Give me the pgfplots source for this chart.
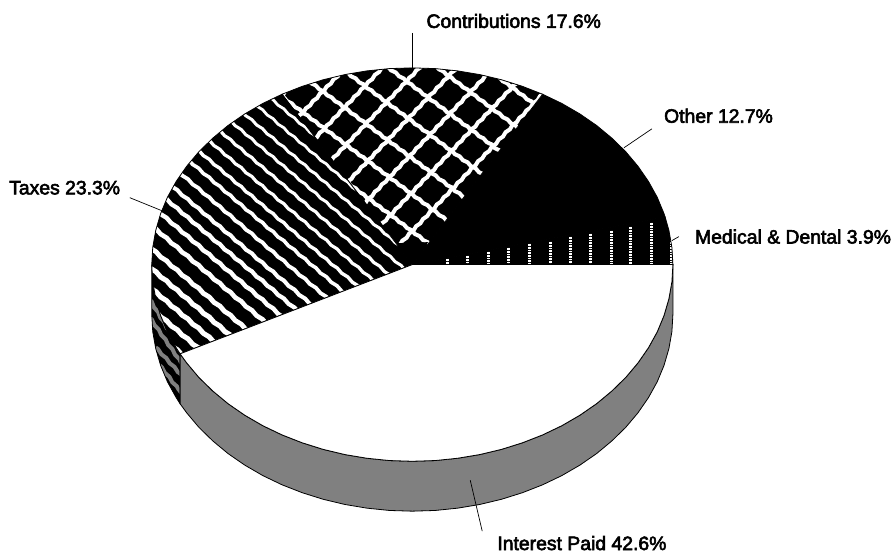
\documentclass[border=0pt]{standalone}
\usepackage{fontspec}
\setmainfont{Liberation Sans}
\newfontfamily\labfont[FakeBold=3]{Liberation Sans}
\usepackage{pgfplots}
\pgfplotsset{compat=1.18}
\usetikzlibrary{decorations.pathmorphing}
\definecolor{sidegray}{RGB}{128,128,128}
\tikzset{
  jag/.style={path picture={},decorate,decoration={zigzag,segment length=#1,amplitude=0.55}},
  lab/.style={anchor=west,inner sep=0pt,font=\fontsize{19.4}{21}\labfont},
  edge/.style={draw=black,line width=0.8pt},
  lead/.style={draw=black,line width=0.7pt}
}
\begin{document}
\begin{tikzpicture}
\begin{axis}[
  x=1pt,y=1pt,
  xmin=0,xmax=891,ymin=0,ymax=554,
  y dir=reverse,
  hide axis,
  clip=false,
  scale only axis
]
\path (axis cs:0,0) -- (axis cs:891,554);
% Side: Taxes
\addplot[edge,fill=black,path picture={
    \foreach \a/\b/\c/\d in {150/300/182/352,150/318/182/364,156/348/182/376,160/366/182/394}
      \draw[sidegray,line width=4pt,jag=12] (axis cs:\a,\b) -- (axis cs:\c,\d);
  }] coordinates {
  (152.0,265.0)(153.0,282.2)(156.0,299.2)(160.9,316.0)(167.7,332.4)(176.5,348.3)(180.4,354.4)
  (180.4,404.4)(176.5,398.3)(167.7,382.4)(160.9,366.0)(156.0,349.2)(153.0,332.2)(152.0,315.0)
} --cycle;
% Side: Interest Paid
\addplot[edge,fill=sidegray] coordinates {
  (180.4,354.4)(187.0,363.5)(199.2,378.0)(213.1,391.6)(228.4,404.3)(245.2,415.9)(263.3,426.4)
  (282.5,435.6)(302.7,443.5)(323.7,450.1)(345.5,455.3)(367.7,459.0)(390.2,461.3)(413.0,462.0)
  (435.8,461.3)(458.3,459.0)(480.5,455.3)(502.3,450.1)(523.3,443.5)(543.5,435.6)(562.7,426.4)
  (580.8,415.9)(597.6,404.3)(612.9,391.6)(626.8,378.0)(639.0,363.5)(649.5,348.3)(658.3,332.4)
  (665.1,316.0)(670.0,299.2)(673.0,282.2)(674.0,265.0)
  (674.0,315.0)(673.0,332.2)(670.0,349.2)(665.1,366.0)(658.3,382.4)(649.5,398.3)(639.0,413.5)
  (626.8,428.0)(612.9,441.6)(597.6,454.3)(580.8,465.9)(562.7,476.4)(543.5,485.6)(523.3,493.5)
  (502.3,500.1)(480.5,505.3)(458.3,509.0)(435.8,511.3)(413.0,512.0)(390.2,511.3)(367.7,509.0)
  (345.5,505.3)(323.7,500.1)(302.7,493.5)(282.5,485.6)(263.3,476.4)(245.2,465.9)(228.4,454.3)
  (213.1,441.6)(199.2,428.0)(187.0,413.5)(180.4,404.4)
} --cycle;
% Top: Medical & Dental
\addplot[edge,fill=black,path picture={
    \foreach \x/\t in {448/259,468/256,489/252,509/248,530/244,551/242,571/237,591/234,612/231,632/227,653/223,673/215}
      \draw[white,line width=3pt,dash pattern=on 0.9pt off 0.7pt,path picture={}] (axis cs:\x,\t) -- (axis cs:\x,265);
  }] coordinates {
  (413,265)(674.0,265.0)(673.0,247.8)(670.0,230.8)(666.2,217.3)
} --cycle;
% Top: Other
\addplot[edge,fill=black] coordinates {
  (413,265)(666.2,217.3)(665.1,214.0)(658.3,197.6)(649.5,181.7)(639.0,166.5)(626.8,152.0)
  (612.9,138.4)(597.6,125.7)(580.8,114.1)(562.7,103.6)(543.5,94.4)
} --cycle;
% Top: Contributions
\addplot[edge,fill=black,path picture={
    \foreach \c in {-42,-78,-115,-151,-188,-224,-261,-297}
      \draw[white,line width=4pt,jag=10] (axis cs:250,{\c+187.5}) -- (axis cs:600,{\c+450});
    \foreach \c in {665,626,587,548,509,470,431,392}
      \draw[white,line width=4pt,jag=10] (axis cs:250,{\c-262.5}) -- (axis cs:600,{\c-630});
    \fill[black,path picture={}] (axis cs:413,265) -- (axis cs:428,243) -- (axis cs:396,244) -- cycle;
  }] coordinates {
  (413,265)(543.5,94.4)(523.3,86.5)(502.3,79.9)(480.5,74.7)(458.3,71.0)(435.8,68.7)(413.0,68.0)
  (390.2,68.7)(367.7,71.0)(345.5,74.7)(323.7,79.9)(302.7,86.5)(282.5,94.4)
} --cycle;
% Top: Taxes
\addplot[edge,fill=black,path picture={
    \foreach \c/\w in {-132/2.8,-113/2.8,-94/3,-75/3,-56/3.2,-37/3.2,-18/3.4,0/3.6,20/3.8,40/4,58/4.2,77/4.4,97/4.6,120/4.8,140/5,160/5,180/5,200/5}
      \draw[white,line width=\w pt,jag=14] (axis cs:100,{\c+85}) -- (axis cs:500,{\c+425});
  }] coordinates {
  (413,265)(282.5,94.4)(263.3,103.6)(245.2,114.1)(228.4,125.7)(213.1,138.4)(199.2,152.0)
  (187.0,166.5)(176.5,181.7)(167.7,197.6)(160.9,214.0)(156.0,230.8)(153.0,247.8)(152.0,265.0)
  (153.0,282.2)(156.0,299.2)(160.9,316.0)(167.7,332.4)(176.5,348.3)(180.4,354.4)
} --cycle;
% Top: Interest Paid
\addplot[edge,fill=white] coordinates {
  (413,265)(180.4,354.4)(187.0,363.5)(199.2,378.0)(213.1,391.6)(228.4,404.3)(245.2,415.9)(263.3,426.4)
  (282.5,435.6)(302.7,443.5)(323.7,450.1)(345.5,455.3)(367.7,459.0)(390.2,461.3)(413.0,462.0)
  (435.8,461.3)(458.3,459.0)(480.5,455.3)(502.3,450.1)(523.3,443.5)(543.5,435.6)(562.7,426.4)
  (580.8,415.9)(597.6,404.3)(612.9,391.6)(626.8,378.0)(639.0,363.5)(649.5,348.3)(658.3,332.4)
  (665.1,316.0)(670.0,299.2)(673.0,282.2)(674.0,265.0)
} --cycle;
% Leaders
\addplot[lead] coordinates {(413,33)(413,68)};
\addplot[lead] coordinates {(653,129)(625,148)};
\addplot[lead] coordinates {(680,237)(673,241)};
\addplot[lead] coordinates {(130,198)(162,211)};
\addplot[lead] coordinates {(471,481)(483,532)};
% Labels
\node[lab] at (axis cs:427,21) {Contributions 17.6\%};
\node[lab] at (axis cs:665,116) {Other 12.7\%};
\node[lab] at (axis cs:696,237) {Medical \& Dental 3.9\%};
\node[lab] at (axis cs:9,188) {Taxes 23.3\%};
\node[lab] at (axis cs:498,544) {Interest Paid 42.6\%};
\end{axis}
\end{tikzpicture}
\end{document}
